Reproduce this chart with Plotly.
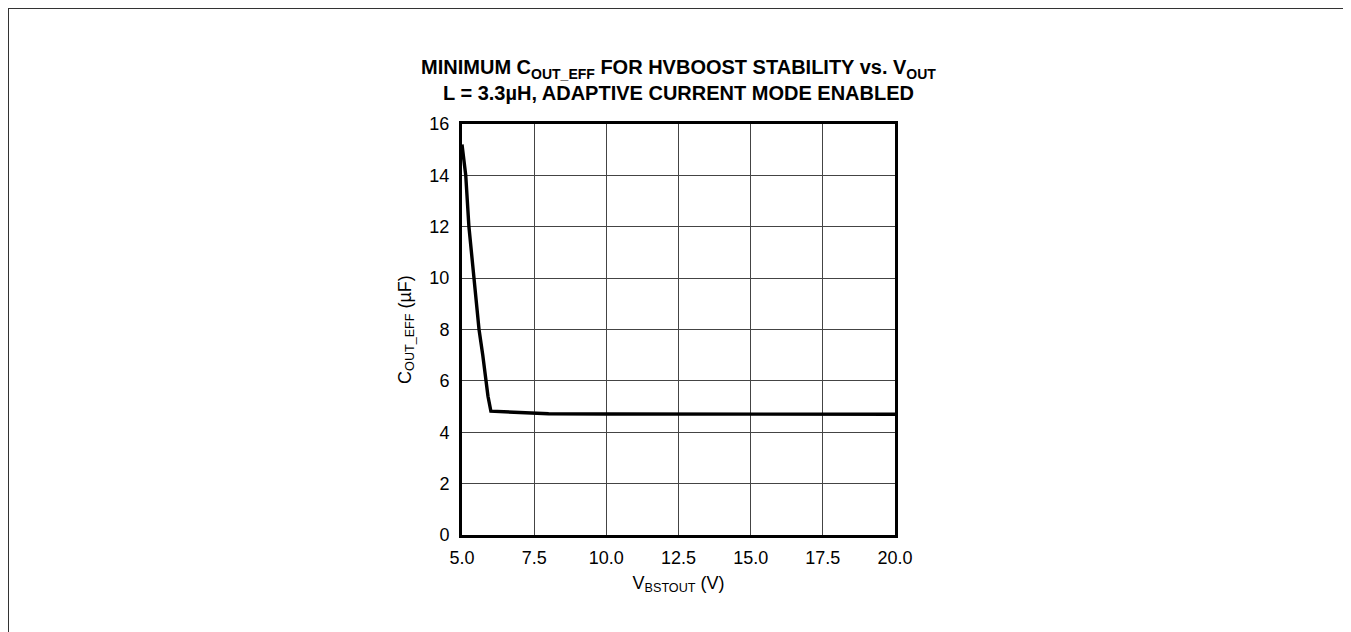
import plotly.graph_objects as go

# data
v_bstout = [5.0, 5.13, 5.24, 5.41, 5.59, 5.72, 5.83, 5.9, 6.0, 6.5, 7.0, 7.5, 8.0, 10.0, 12.5, 15.0, 17.5, 20.0]
c_out_eff = [15.2, 14.0, 12.0, 10.0, 8.0, 7.0, 6.0, 5.4, 4.82, 4.79, 4.77, 4.74, 4.72, 4.71, 4.7, 4.7, 4.7, 4.7]

x_ticks = [5.0, 7.5, 10.0, 12.5, 15.0, 17.5, 20.0]
x_ticktext = ['5.0', '7.5', '10.0', '12.5', '15.0', '17.5', '20.0']
y_ticks = [0, 2, 4, 6, 8, 10, 12, 14, 16]

FONT = "Liberation Sans Narrow, Arial Narrow, Liberation Sans, Arial, sans-serif"

# plot area in figure pixels (page is offset by the 8px body margin)
L, R, T, B = 454, 887, 116, 527
W, H = R - L, B - T

fig = go.Figure()

fig.add_trace(go.Scatter(
    x=v_bstout,
    y=c_out_eff,
    mode='lines',
    line=dict(color='black', width=3.4),
    showlegend=False,
    hoverinfo='skip'
))

fig.update_layout(
    width=1351,
    height=632,
    margin=dict(l=L, r=1351 - R, t=T, b=632 - B),
    paper_bgcolor='white',
    plot_bgcolor='white',
    font=dict(family=FONT, size=18, color='black'),
    title=dict(
        text="<b>MINIMUM C<sub>OUT_EFF</sub> FOR HVBOOST STABILITY vs. V<sub>OUT</sub></b><br>"
             "<b>L = 3.3µH, ADAPTIVE CURRENT MODE ENABLED</b>",
        x=(R + L) / 2 / 1351,
        xanchor='center',
        y=0.895,
        yanchor='top',
        font=dict(family=FONT, size=20, color='black')
    ),
    xaxis=dict(
        range=[5.0, 20.0],
        tickvals=x_ticks,
        ticktext=x_ticktext,
        showgrid=True,
        gridcolor='#444444',
        gridwidth=1,
        zeroline=False,
        showline=True,
        linecolor='black',
        linewidth=3,
        mirror=True,
        ticks='',
        ticklabelstandoff=4,
        title=dict(text="V<sub>BSTOUT</sub> (V)", standoff=10, font=dict(size=18)),
        tickfont=dict(size=18)
    ),
    yaxis=dict(
        range=[0, 16],
        tickvals=y_ticks,
        showgrid=True,
        gridcolor='#444444',
        gridwidth=1,
        zeroline=False,
        showline=True,
        linecolor='black',
        linewidth=3,
        mirror=True,
        ticks='',
        ticklabelstandoff=6,
        title=dict(text="C<sub>OUT_EFF</sub> (µF)", standoff=14, font=dict(size=18)),
        tickfont=dict(size=18)
    ),
    shapes=[dict(
        type='rect',
        xref='paper', yref='paper',
        x0=(0 - L) / W, x1=(1341 - L) / W,
        y0=(B - 640) / H, y1=(B - 0) / H,
        line=dict(color='#333333', width=2),
        fillcolor='rgba(0,0,0,0)',
        layer='below'
    )]
)

fig.write_html("out.html")
